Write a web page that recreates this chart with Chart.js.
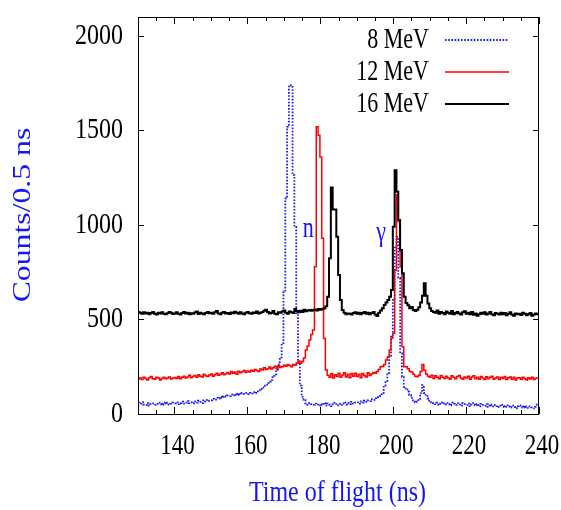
<!DOCTYPE html>
<html>
<head>
<meta charset="utf-8">
<title>Time of flight spectra</title>
<script src="https://cdn.jsdelivr.net/npm/chart.js@4/dist/chart.umd.min.js"></script>
<style>
    body { margin: 0; background: #fff; }
    .chart-box { width: 561px; height: 510px; }
</style>
</head>
<body>
<div class="chart-box"><canvas id="tofChart"></canvas></div>
<script>
// histogram bins: 0.5 ns wide; the first full bin starts a little after 130 ns
const axisStart = 130;
const binStart = 130.4;
const binWidth = 0.5;

const seriesLabels = ["8 MeV", "12 MeV", "16 MeV"];

const counts8MeV = [
    60, 55, 62, 50, 48, 58, 45, 52, 56, 50, 54, 60, 52, 48, 55, 62, 58, 50, 54, 60,
    56, 62, 52, 58, 65, 55, 60, 68, 58, 62, 56, 66, 60, 70, 64, 58, 72, 66, 75, 70,
    72, 80, 76, 85, 82, 90, 86, 94, 92, 98, 95, 102, 98, 105, 100, 108, 104, 110, 106, 112,
    105, 112, 108, 115, 110, 120, 125, 132, 140, 150, 155, 165, 172, 180, 195, 210, 235, 262, 300, 375,
    647, 1140, 1519, 1739, 1730, 1264, 990, 534, 270, 150, 91, 75, 56, 50, 58, 52, 48, 55, 50, 45,
    52, 48, 58, 44, 55, 50, 42, 52, 60, 46, 54, 48, 56, 62, 50, 58, 52, 64, 55, 60,
    62, 55, 66, 60, 70, 64, 72, 68, 78, 75, 84, 90, 95, 105, 111, 150, 175, 217, 303, 409,
    603, 880, 937, 720, 322, 197, 144, 130, 118, 100, 85, 72, 62, 65, 80, 110, 153, 111, 95, 82,
    70, 62, 58, 52, 60, 48, 55, 62, 50, 58, 52, 46, 60, 54, 48, 56, 50, 44, 58, 52,
    48, 55, 42, 50, 58, 46, 52, 40, 54, 48, 44, 52, 38, 50, 45, 40, 48, 36, 44, 50,
    42, 36, 46, 40, 34, 44, 38, 30, 42, 45, 38, 34, 42, 36, 32, 40, 35, 30, 38, 50
];

const counts12MeV = [
    185, 190, 182, 195, 188, 180, 192, 198, 186, 184, 195, 190, 180, 188, 194, 186, 191, 196, 185, 190,
    193, 188, 198, 186, 195, 200, 190, 196, 205, 192, 198, 203, 195, 208, 200, 196, 210, 202, 198, 206,
    212, 200, 208, 215, 205, 210, 218, 207, 213, 220, 212, 225, 216, 222, 210, 226, 218, 224, 230, 220,
    228, 222, 232, 226, 236, 230, 225, 238, 233, 245, 236, 240, 248, 238, 244, 252, 240, 255, 246, 250,
    258, 252, 262, 256, 250, 262, 258, 270, 280, 268, 278, 296, 338, 360, 391, 420, 444, 779, 1519, 1475,
    1360, 929, 400, 233, 205, 195, 214, 190, 208, 198, 216, 194, 206, 218, 196, 210, 192, 214, 200, 216,
    198, 210, 192, 214, 204, 196, 218, 204, 212, 220, 215, 225, 235, 250, 252, 262, 285, 303, 338, 401,
    427, 760, 1160, 1017, 779, 356, 250, 250, 240, 225, 222, 210, 200, 197, 205, 225, 262, 232, 212, 200,
    195, 205, 188, 202, 194, 186, 204, 195, 188, 200, 190, 184, 202, 194, 186, 198, 204, 190, 184, 196,
    190, 200, 184, 196, 202, 186, 194, 184, 198, 190, 182, 197, 186, 194, 200, 184, 190, 196, 183, 194,
    188, 198, 182, 192, 196, 184, 194, 180, 190, 192, 184, 195, 186, 180, 192, 185, 194, 182, 189, 190
];

const counts16MeV = [
    540, 535, 530, 538, 532, 536, 528, 534, 540, 530, 526, 535, 532, 538, 530, 527, 533, 540, 536, 529,
    532, 538, 530, 526, 534, 540, 531, 536, 528, 533, 530, 537, 542, 529, 535, 531, 527, 534, 540, 533,
    536, 530, 538, 545, 532, 528, 535, 540, 531, 534, 529, 537, 533, 541, 535, 530, 538, 532, 528, 536,
    540, 533, 530, 537, 534, 542, 531, 536, 539, 546, 552, 540, 532, 536, 545, 530, 528, 538, 535, 542,
    548, 536, 530, 542, 538, 534, 556, 545, 538, 546, 540, 552, 544, 548, 550, 546, 550, 553, 548, 556,
    552, 555, 560, 570, 620, 824, 1198, 1082, 1082, 937, 735, 603, 550, 535, 528, 532, 530, 526, 534, 538,
    530, 536, 528, 534, 540, 530, 535, 528, 534, 540, 526, 518, 535, 548, 560, 576, 590, 603, 620, 656,
    990, 1290, 1175, 1026, 867, 745, 620, 587, 575, 560, 566, 550, 545, 552, 565, 590, 625, 692, 625, 585,
    560, 545, 540, 535, 548, 530, 540, 534, 528, 542, 536, 530, 545, 528, 534, 540, 532, 526, 538, 544,
    530, 535, 528, 540, 525, 532, 520, 528, 535, 530, 538, 526, 532, 540, 528, 522, 534, 530, 526, 536,
    528, 534, 522, 530, 538, 526, 520, 532, 528, 530, 524, 536, 530, 522, 528, 534, 520, 526, 532, 528
];

const xTickLabels = [140, 160, 180, 200, 220, 240];
const xMinorStep = 5;
const yTickLabels = [0, 500, 1000, 1500, 2000];

// peak markers: [text, time (ns), counts]
const peakNotes = [["n", 176.7, 975], ["\u03b3", 196.7, 955]];

const serif = '"Liberation Serif", "Times New Roman", serif';
const textBlue = "#1414ff";

function toSteps(counts) {
    const points = [{ x: axisStart, y: counts[0] }];
    counts.forEach((value, index) => {
        points.push({ x: binStart + index * binWidth, y: value });
    });
    points.push({ x: binStart + counts.length * binWidth, y: counts[counts.length - 1] });
    return points;
}

// gnuplot-like text: a bit taller than wide
function drawText(ctx, text, x, y, opts) {
    ctx.save();
    ctx.translate(x, y);
    if (opts.rotate) {
        ctx.rotate(opts.rotate);
    }
    ctx.scale(opts.sx || 1, opts.sy || 1);
    ctx.font = `${opts.size}px ${serif}`;
    ctx.fillStyle = opts.color || "#000";
    ctx.textAlign = opts.align || "center";
    ctx.textBaseline = "middle";
    ctx.fillText(text, 0, 0);
    ctx.restore();
}

const framePlugin = {
    id: "gnuplotFrame",
    afterDraw(chart) {
        const { ctx, chartArea: area, scales } = chart;
        const xScale = scales.x;
        const yScale = scales.y;

        ctx.save();
        ctx.strokeStyle = "#000";
        ctx.lineWidth = 1;
        ctx.strokeRect(area.left + 0.5, area.top + 0.5, area.right - area.left - 1, area.bottom - area.top);

        ctx.beginPath();
        for (let t = axisStart; t <= xScale.max; t += xMinorStep) {
            const px = Math.round(xScale.getPixelForValue(t)) + 0.5;
            const len = xTickLabels.includes(t) ? 7 : 4;
            ctx.moveTo(px, area.bottom);
            ctx.lineTo(px, area.bottom - len);
            ctx.moveTo(px, area.top);
            ctx.lineTo(px, area.top + len);
        }
        yTickLabels.forEach((value) => {
            const py = Math.round(yScale.getPixelForValue(value)) + 0.5;
            ctx.moveTo(area.left, py);
            ctx.lineTo(area.left + 6, py);
            ctx.moveTo(area.right, py);
            ctx.lineTo(area.right - 6, py);
        });
        ctx.stroke();
        ctx.restore();

        xTickLabels.forEach((value) => {
            drawText(ctx, String(value), xScale.getPixelForValue(value) + 3, 446, { size: 23, sy: 1.32 });
        });
        yTickLabels.forEach((value) => {
            drawText(ctx, String(value), 123, yScale.getPixelForValue(value), { size: 24, sy: 1.25, align: "right" });
        });

        drawText(ctx, "Time of flight (ns)", (area.left + area.right) / 2 - 1, 493, { size: 24, sy: 1.2, color: textBlue });
        drawText(ctx, "Counts/0.5 ns", 23, 215, { size: 25, sx: 1.27, rotate: -Math.PI / 2, color: textBlue });

        peakNotes.forEach(([text, t, value]) => {
            drawText(ctx, text, xScale.getPixelForValue(t), yScale.getPixelForValue(value), { size: 22, sy: 1.35, color: textBlue });
        });

        // key, top right: label then line sample
        const keyRows = [40, 72, 104];
        chart.data.datasets.forEach((dataset, index) => {
            const y = keyRows[index];
            drawText(ctx, dataset.label, 429, y, { size: 22, sy: 1.33, align: "right" });
            ctx.save();
            ctx.strokeStyle = dataset.borderColor;
            ctx.lineWidth = dataset.borderWidth;
            ctx.setLineDash(dataset.borderDash || []);
            ctx.beginPath();
            ctx.moveTo(445, y);
            ctx.lineTo(509, y);
            ctx.stroke();
            ctx.restore();
        });
    },
};

function initChart() {
    const canvas = document.getElementById("tofChart");

    new Chart(canvas, {
        type: "line",
        data: {
            datasets: [
                {
                    label: seriesLabels[0],
                    data: toSteps(counts8MeV),
                    borderColor: "#1a1aff",
                    borderWidth: 1.8,
                    borderDash: [1.6, 1.6],
                    order: 2,
                },
                {
                    label: seriesLabels[1],
                    data: toSteps(counts12MeV),
                    borderColor: "#ff0000",
                    borderWidth: 1.5,
                    order: 1,
                },
                {
                    label: seriesLabels[2],
                    data: toSteps(counts16MeV),
                    borderColor: "#000000",
                    borderWidth: 2,
                    order: 0,
                },
            ],
        },
        options: {
            responsive: true,
            maintainAspectRatio: false,
            animation: false,
            devicePixelRatio: 1,
            layout: {
                padding: { left: 138, right: 22, top: 17, bottom: 96 },
            },
            elements: {
                line: { stepped: "after", fill: false, tension: 0 },
                point: { radius: 0 },
            },
            scales: {
                x: { type: "linear", min: 130, max: 240, display: false },
                y: { type: "linear", min: 0, max: 2100, display: false },
            },
            plugins: {
                legend: { display: false },
                tooltip: { enabled: false },
            },
        },
        plugins: [framePlugin],
    });
}

document.addEventListener("DOMContentLoaded", () => {
    initChart();
});
</script>
</body>
</html>
